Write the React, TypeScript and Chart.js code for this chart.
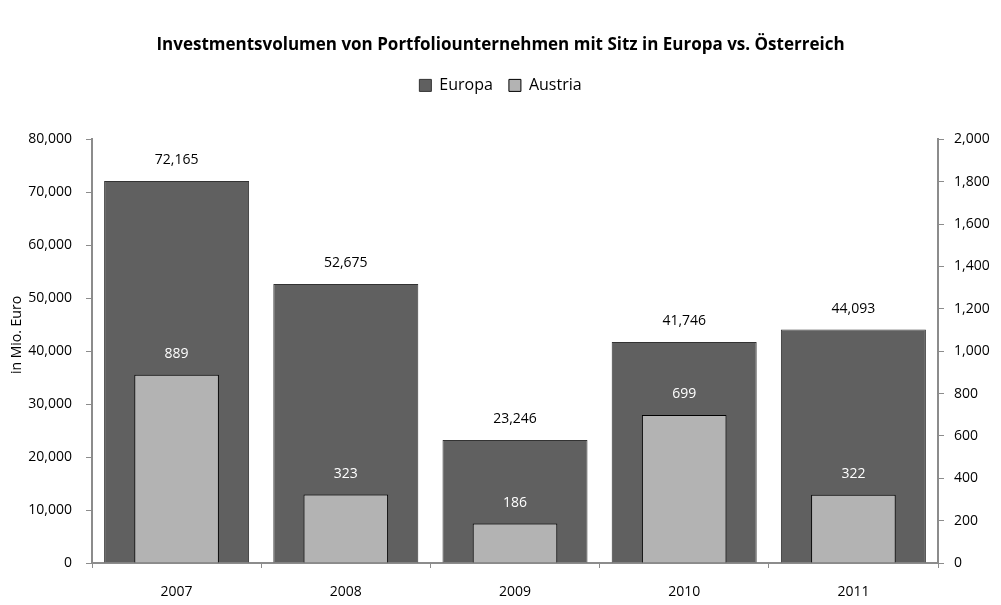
import React, { useEffect, useRef } from "react";
import { Chart, registerables } from "chart.js";

Chart.register(...registerables);

const years = ["2007", "2008", "2009", "2010", "2011"];
const europaValues = [72165, 52675, 23246, 41746, 44093];
const austriaValues = [889, 323, 186, 699, 322];
const leftTicksMax = 80000;
const rightTicksMax = 2000;

const FONT = "'Open Sans', 'DejaVu Sans', sans-serif";
const AXIS_COLOR = "#8c8c8c";

const fmt = (v: number) => v.toLocaleString("en-US");

const labelsPlugin = {
  id: "barLabels",
  afterDatasetsDraw(chart: any) {
    const ctx = chart.ctx;
    ctx.save();
    ctx.font = `14px ${FONT}`;
    ctx.textAlign = "center";
    ctx.textBaseline = "middle";
    chart.data.datasets.forEach((ds: any, di: number) => {
      const meta = chart.getDatasetMeta(di);
      ctx.fillStyle = di === 0 ? "#000000" : "#ffffff";
      meta.data.forEach((el: any, i: number) => {
        ctx.fillText(fmt(ds.data[i]), el.x, el.y - 21);
      });
    });
    // y-axis title
    ctx.save();
    ctx.translate(17, 335);
    ctx.rotate(-Math.PI / 2);
    ctx.font = `14px ${FONT}`;
    ctx.fillStyle = "#000000";
    ctx.fillText("in Mio. Euro", 0, 0);
    ctx.restore();
    ctx.restore();
  },
};

export default function App() {
  const ref = useRef<HTMLCanvasElement>(null);
  useEffect(() => {
    if (!ref.current) return;
    const chart = new Chart(ref.current, {
      type: "bar",
      data: {
        labels: years,
        datasets: [
          {
            label: "Europa",
            data: europaValues,
            yAxisID: "y",
            backgroundColor: "#606060",
            borderColor: "#333333",
            borderWidth: 1,
            grouped: false,
            barPercentage: 0.857,
            categoryPercentage: 1,
            order: 1,
          },
          {
            label: "Austria",
            data: austriaValues,
            yAxisID: "y1",
            backgroundColor: "#b3b3b3",
            borderColor: "#000000",
            borderWidth: 1,
            grouped: false,
            barPercentage: 0.5,
            categoryPercentage: 1,
            order: 0,
          },
        ],
      },
      options: {
        animation: false,
        responsive: true,
        maintainAspectRatio: false,
        layout: { padding: { left: 0, right: 0, top: 0, bottom: 0 } },
        plugins: {
          title: {
            display: true,
            text: "Investmentsvolumen von Portfoliounternehmen mit Sitz in Europa vs. Österreich",
            color: "#000000",
            font: { family: FONT, size: 17, weight: "bold" },
            padding: { top: 35, bottom: 6 },
          },
          subtitle: {
            display: true,
            text: "",
            weight: 500,
            font: { family: FONT, size: 10 },
            padding: { top: 24, bottom: 0 },
          },
          legend: {
            display: true,
            position: "top",
            labels: {
              color: "#000000",
              font: { family: FONT, size: 16 },
              boxWidth: 12,
              boxHeight: 12,
              padding: 16,
              sort: (a: any, b: any) => a.datasetIndex - b.datasetIndex,
            },
          },
          tooltip: { enabled: false },
        },
        scales: {
          x: {
            offset: true,
            afterFit: (s: any) => {
              s.height = 42;
            },
            grid: {
              display: true,
              offset: true,
              drawOnChartArea: false,
              drawTicks: true,
              tickLength: 5,
              color: AXIS_COLOR,
            },
            border: { display: true, color: AXIS_COLOR, width: 2 },
            ticks: { color: "#000000", font: { family: FONT, size: 14 }, padding: 16 },
          },
          y: {
            position: "left",
            min: 0,
            max: leftTicksMax,
            afterFit: (s: any) => {
              s.width = 92;
            },
            grid: {
              display: true,
              drawOnChartArea: false,
              drawTicks: true,
              tickLength: 6,
              color: AXIS_COLOR,
            },
            border: { display: true, color: AXIS_COLOR, width: 2 },
            ticks: {
              stepSize: 10000,
              color: "#000000",
              font: { family: FONT, size: 14 },
              padding: 14,
              callback: (v: any) => fmt(Number(v)),
            },
          },
          y1: {
            position: "right",
            min: 0,
            max: rightTicksMax,
            afterFit: (s: any) => {
              s.width = 63;
            },
            grid: {
              display: true,
              drawOnChartArea: false,
              drawTicks: true,
              tickLength: 6,
              color: AXIS_COLOR,
            },
            border: { display: true, color: AXIS_COLOR, width: 2 },
            ticks: {
              stepSize: 200,
              color: "#000000",
              font: { family: FONT, size: 14 },
              padding: 10,
              callback: (v: any) => fmt(Number(v)),
            },
          },
        },
      },
      plugins: [labelsPlugin],
    });
    return () => chart.destroy();
  }, []);
  return (
    <div style={{ position: "fixed", left: 0, top: 0, width: 1001, height: 605, background: "#fff" }}>
      <canvas ref={ref} />
    </div>
  );
}
